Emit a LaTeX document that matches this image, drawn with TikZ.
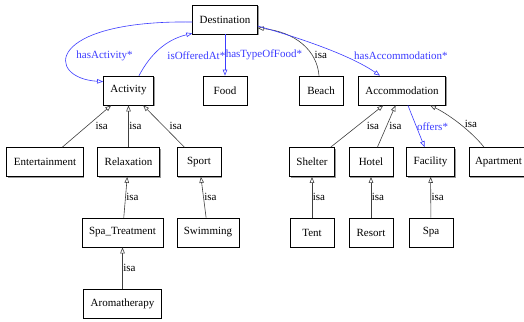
\documentclass[tikz,border=0pt]{standalone}
\usepackage{fontspec}
\setmainfont{Liberation Serif}
\usetikzlibrary{arrows.meta}
\usetikzlibrary{shadows}

\definecolor{propblue}{RGB}{60,60,255}

\begin{document}
\begin{tikzpicture}[x=1pt,y=-1pt,font=\fontsize{11}{13}\selectfont,%
  class/.style={draw,line width=0.7pt,fill=white,minimum width=44pt,%
  minimum height=29pt,inner xsep=7pt,%
  drop shadow={shadow xshift=1.2pt,shadow yshift=-1.2pt,fill=black!40,opacity=1}},
  isa/.style={draw=black!75,line width=0.6pt,-{Triangle[open,length=6pt,width=4.5pt]}},
  prop/.style={isa,draw=propblue},
  lbl/.style={anchor=west,inner sep=0.5pt},
  plbl/.style={lbl,text=propblue}]
  \useasboundingbox[fill=white] (0,0) rectangle (524,321);

  \node[class] (des)   at (225,19.5)   {Destination};
  \node[class] (act)   at (128.5,90.5) {Activity};
  \node[class] (food)  at (225,90.5)   {Food};
  \node[class] (beach) at (321,90.5)   {Beach};
  \node[class] (acc)   at (402,90.5)   {Accommodation};
  \node[class] (ent)   at (45,162)     {Entertainment};
  \node[class] (rel)   at (128.5,162)  {Relaxation};
  \node[class] (sport) at (199,162)    {Sport};
  \node[class] (shel)  at (312,162)    {Shelter};
  \node[class] (hotel) at (371,162)    {Hotel};
  \node[class] (fac)   at (430.5,162)  {Facility};
  \node[class,inner xsep=6pt,text width=54pt,align=left] (apt) at (502,162) {Apartment};
  \node[class] (spat)  at (122.5,232.5) {Spa\_Treatment};
  \node[class] (swim)  at (208,232.5)  {Swimming};
  \node[class] (tent)  at (312,232.5)  {Tent};
  \node[class] (res)   at (371,232.5)  {Resort};
  \node[class] (spa)   at (431,232.5)  {Spa};
  \node[class] (aroma) at (122.5,303.5) {Aromatherapy};

  % properties of Destination
  \draw[prop] ([yshift=-2.5pt]des.west) .. controls (45,20) and (45,78) ..
    node[plbl,pos=0.5,xshift=5pt,yshift=-6pt] {hasActivity*} ([yshift=-6pt]act.north west);
  \draw[prop] ([xshift=10.5pt]act.north) .. controls (150,55) and (165,40) ..
    node[plbl,pos=0.4,xshift=12pt,yshift=-2pt] {isOfferedAt*} ([yshift=1pt]des.south west);
  \draw[prop] (des) -- node[plbl] {hasTypeOfFood*} (food);
  \draw[isa] ([xshift=-2pt]beach.north) .. controls (317,50) and (295,32) ..
    node[lbl,pos=0.3,xshift=2pt] {isa} ([yshift=-8.5pt]des.east);
  \draw[prop] ([yshift=-6.5pt]des.east) .. controls (300,38) and (350,55) ..
    node[plbl,pos=0.7,xshift=5pt,yshift=2pt] {hasAccommodation*} ([xshift=-22pt]acc.north);

  % subclasses
  \draw[isa] (ent)   -- node[lbl,xshift=8pt] {isa} (act);
  \draw[isa] (rel)   -- node[lbl] {isa} (act);
  \draw[isa] (sport) -- node[lbl,xshift=5pt] {isa} (act);
  \draw[isa] (spat)  -- node[lbl] {isa} (rel);
  \draw[isa] (swim)  -- node[lbl] {isa} (sport);
  \draw[isa] (aroma) -- node[lbl] {isa} (spat);
  \draw[isa] (shel)  -- node[lbl,xshift=9pt] {isa} (acc);
  \draw[isa] (hotel) -- node[lbl,xshift=2pt] {isa} (acc);
  \draw[prop] (acc)  -- node[plbl] {offers*} (fac);
  \draw[isa] ([xshift=-18pt]apt.north) .. controls (472,132) and (450,115) ..
    node[lbl,pos=0.5,xshift=4pt] {isa} ([xshift=28pt]acc.south);
  \draw[isa] (tent)  -- node[lbl] {isa} (shel);
  \draw[isa] (res)   -- node[lbl] {isa} (hotel);
  \draw[isa] (spa)   -- node[lbl] {isa} (fac);
\end{tikzpicture}
\end{document}
